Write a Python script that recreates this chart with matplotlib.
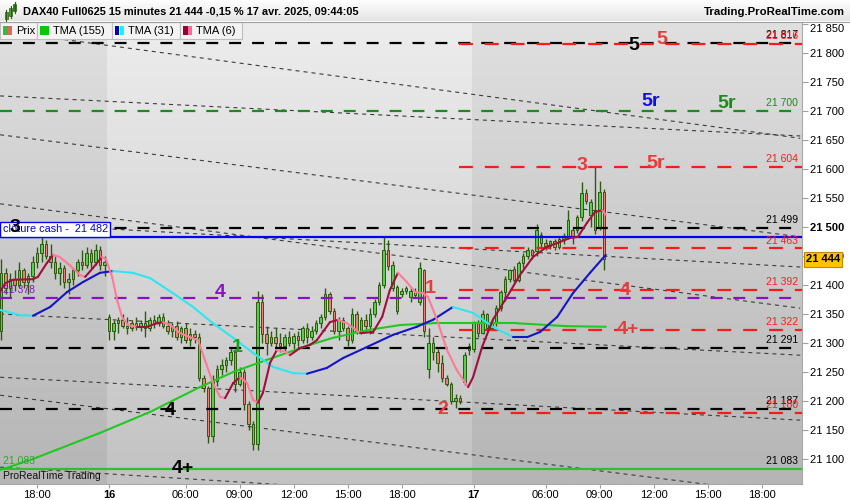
import numpy as np
import matplotlib.pyplot as plt
from matplotlib.collections import LineCollection
from matplotlib.patches import Rectangle
from matplotlib.colors import LinearSegmentedColormap

plt.rcParams['font.family'] = ['Liberation Sans', 'DejaVu Sans']
plt.rcParams['lines.scale_dashes'] = False

W, H = 850, 500

# 15 min bars, index 0 = 15 avr 16:00 ; day 16 starts at 24, day 17 at 105
opens = [21320, 21420, 21395, 21410, 21400, 21425, 21405, 21415, 21440, 21455, 21470, 21450,
         21440, 21420, 21430, 21405, 21410, 21425, 21440, 21435, 21455, 21440, 21460, 21435,
         21345, 21320, 21335, 21340, 21330, 21325, 21335, 21328, 21335, 21325, 21340, 21335,
         21345, 21330, 21320, 21330, 21310, 21325, 21305, 21315, 21310, 21240, 21222, 21140,
         21235, 21255, 21262, 21270, 21285, 21230, 21250, 21195, 21160, 21125, 21370, 21315,
         21300, 21310, 21300, 21295, 21310, 21300, 21312, 21305, 21325, 21310, 21320, 21335,
         21345, 21385, 21355, 21320, 21340, 21325, 21305, 21350, 21320, 21340, 21330, 21350,
         21370, 21400, 21460, 21395, 21397, 21385, 21390, 21380, 21390, 21370, 21425, 21255,
         21300, 21285, 21265, 21240, 21230, 21200, 21205, 21232, 21288,
         21290, 21335, 21318, 21350, 21325, 21335, 21360, 21388, 21410, 21428, 21408, 21438,
         21450, 21460, 21458, 21486, 21472, 21468, 21475, 21465, 21480, 21483, 21495, 21495,
         21517, 21559, 21521, 21495, 21500, 21560]
highs = [21445, 21430, 21420, 21425, 21440, 21430, 21420, 21450, 21465, 21482, 21478, 21470,
         21450, 21440, 21435, 21420, 21430, 21445, 21460, 21465, 21462, 21470, 21468, 21450,
         21350, 21340, 21345, 21350, 21345, 21340, 21345, 21340, 21355, 21345, 21348, 21350,
         21352, 21340, 21335, 21338, 21330, 21335, 21325, 21322, 21318, 21245, 21225, 21245,
         21262, 21272, 21275, 21292, 21290, 21258, 21255, 21200, 21165, 21390, 21385, 21330,
         21320, 21325, 21318, 21315, 21320, 21318, 21320, 21330, 21335, 21330, 21340, 21350,
         21395, 21388, 21360, 21345, 21345, 21330, 21360, 21355, 21345, 21350, 21360, 21375,
         21405, 21483, 21478, 21442, 21400, 21395, 21398, 21395, 21395, 21440, 21428, 21325,
         21310, 21290, 21280, 21245, 21232, 21212, 21210, 21285, 21300,
         21338, 21340, 21357, 21352, 21340, 21365, 21392, 21415, 21428, 21432, 21442, 21455,
         21465, 21462, 21505, 21492, 21480, 21478, 21480, 21485, 21490, 21530, 21498, 21520,
         21578, 21565, 21548, 21604, 21580, 21565]
lows = [21305, 21385, 21380, 21390, 21395, 21395, 21385, 21405, 21430, 21440, 21445, 21430,
        21410, 21400, 21395, 21385, 21400, 21415, 21425, 21430, 21430, 21435, 21425, 21415,
        21305, 21305, 21318, 21325, 21315, 21320, 21322, 21320, 21310, 21320, 21325, 21330,
        21325, 21315, 21310, 21305, 21300, 21300, 21295, 21300, 21235, 21215, 21128, 21130,
        21225, 21245, 21250, 21262, 21215, 21225, 21185, 21150, 21115, 21115, 21300, 21280,
        21295, 21290, 21285, 21285, 21295, 21290, 21295, 21300, 21300, 21305, 21315, 21325,
        21340, 21350, 21315, 21305, 21320, 21295, 21300, 21315, 21315, 21320, 21315, 21345,
        21365, 21395, 21425, 21390, 21350, 21380, 21385, 21370, 21380, 21365, 21310, 21240,
        21270, 21250, 21232, 21225, 21195, 21188, 21195, 21228, 21280,
        21285, 21310, 21315, 21320, 21322, 21330, 21355, 21372, 21405, 21405, 21405, 21430,
        21445, 21445, 21450, 21465, 21460, 21462, 21460, 21462, 21470, 21480, 21470, 21490,
        21510, 21540, 21500, 21488, 21495, 21426]
closes = [21420, 21395, 21410, 21400, 21425, 21405, 21415, 21440, 21455, 21470, 21450, 21440,
          21420, 21430, 21405, 21410, 21425, 21440, 21435, 21455, 21440, 21460, 21435, 21440,
          21320, 21335, 21340, 21330, 21325, 21335, 21328, 21335, 21325, 21340, 21335, 21345,
          21330, 21320, 21330, 21310, 21325, 21305, 21315, 21310, 21240, 21222, 21140, 21235,
          21255, 21262, 21270, 21285, 21230, 21250, 21195, 21160, 21125, 21370, 21315, 21300,
          21310, 21300, 21295, 21310, 21300, 21312, 21305, 21325, 21310, 21320, 21335, 21345,
          21385, 21355, 21320, 21340, 21325, 21305, 21350, 21320, 21340, 21330, 21350, 21370,
          21400, 21460, 21432, 21435, 21355, 21390, 21395, 21390, 21383, 21430, 21320, 21300,
          21285, 21265, 21240, 21230, 21200, 21205, 21200, 21280, 21295,
          21335, 21318, 21350, 21325, 21335, 21360, 21388, 21410, 21425, 21408, 21438, 21450,
          21460, 21452, 21495, 21472, 21468, 21475, 21465, 21480, 21485, 21512, 21482, 21517,
          21559, 21545, 21543, 21530, 21560, 21444]

# moving averages (bar index, price)
tma6_x = [-0.2, 0.9, 2.7, 7.1, 8.2, 10.2, 11.6, 13.1, 15.3, 17.6, 18.7, 20.4, 22.4, 23.3, 24.7,
          25.8, 26.9, 28.2, 30.2, 32.4, 34.7, 36.0, 37.6, 39.8, 42.0, 43.8, 45.3, 47.1, 48.7,
          49.8, 51.6, 53.1, 54.7, 56.0, 57.1, 58.2, 59.8, 61.3, 63.1, 64.2, 66.4, 68.7, 70.2,
          73.1, 74.9, 76.9, 79.8, 82.7, 84.7, 86.4, 88.2, 90.2, 92.0, 93.8, 94.9, 96.9, 99.1,
          101.3, 103.8, 104.9, 106.9, 109.3, 112.4, 115.3, 118.2, 121.3, 124.2, 126.4, 128.2,
          130.2, 132.0, 133.6, 134.4]
tma6_y = [21388, 21403, 21409, 21410, 21414, 21438, 21452, 21448, 21434, 21417, 21414, 21429,
          21448, 21445, 21414, 21374, 21345, 21331, 21328, 21328, 21334, 21336, 21331, 21317,
          21310, 21305, 21271, 21231, 21207, 21205, 21231, 21241, 21231, 21202, 21197, 21214,
          21266, 21288, 21285, 21279, 21291, 21297, 21305, 21336, 21340, 21334, 21317, 21319,
          21345, 21391, 21421, 21405, 21388, 21386, 21379, 21340, 21288, 21253, 21224, 21241,
          21293, 21340, 21379, 21417, 21448, 21466, 21474, 21481, 21483, 21507, 21526, 21529,
          21521]
tma31_x = [-0.2, 4.2, 7.1, 10.9, 14.7, 18.2, 22.0, 24.9, 29.3, 33.1, 38.2, 42.7, 47.1, 51.6,
           56.0, 60.4, 64.9, 68.0, 72.4, 76.0, 81.3, 87.1, 92.4, 96.0, 100.4, 104.9, 109.3,
           113.8, 116.9, 119.8, 123.6, 127.1, 130.9, 134.4]
tma31_y = [21357, 21348, 21347, 21362, 21388, 21405, 21421, 21424, 21421, 21412, 21386, 21362,
           21334, 21309, 21283, 21259, 21248, 21247, 21257, 21274, 21293, 21314, 21328, 21340,
           21362, 21352, 21328, 21310, 21310, 21319, 21345, 21386, 21421, 21452]
tma155_x = [-0.2, 7.1, 12.4, 22.0, 33.1, 44.2, 51.6, 59.1, 68.7, 73.8, 81.3, 88.7, 96.0,
            103.6, 114.7, 125.8, 134.4]
tma155_y = [21081, 21100, 21116, 21145, 21181, 21224, 21250, 21271, 21297, 21309, 21322, 21331,
            21334, 21334, 21334, 21329, 21328]

black_levels = [21817, 21499, 21291, 21187]
red_levels = [21816, 21604, 21463, 21392, 21322, 21180]
green_level = 21700
purple_level = 21378
cash_close = 21482
support_level = 21083
last_price = 21444

# thin dashed trend lines: (i0, p0, i1, p1)
trend_lines = [(-0.2, 21726, 177.6, 21657), (-0.2, 21838, 177.6, 21653),
               (-0.2, 21659, 177.6, 21483), (-0.2, 21507, 177.6, 21431),
               (-0.2, 21540, 177.6, 21360), (-0.2, 21350, 177.6, 21279),
               (-0.2, 21241, 177.6, 21167), (-0.2, 21210, 177.6, 21036),
               (-0.2, 21086, 177.6, 21000)]

tick_pos = [8, 24, 41, 53, 65, 77, 89, 105, 121, 133, 145, 157, 169]
tick_lab = ['18:00', '16', '06:00', '09:00', '12:00', '15:00', '18:00',
            '17', '06:00', '09:00', '12:00', '15:00', '18:00']
price_ticks = list(range(21100, 21851, 50))


def X(px):
    return (px - 1) / 4.5


def P(py):
    return 21800 - (py - 53) / 0.58


def ftext(x, y, s, **kw):
    fig.text(x / W, 1 - y / H, s, **kw)


def frect(x, y, w, h, **kw):
    fig.add_artist(Rectangle((x / W, 1 - (y + h) / H), w / W, h / H,
                             transform=fig.transFigure, **kw))


fig = plt.figure(figsize=(W / 100, H / 100), dpi=100)
fig.patch.set_facecolor('white')
ax = fig.add_axes([0, 16 / H, 802 / W, 462 / H])
x0, x1 = X(0), X(802)
y0, y1 = P(484), P(22)
ax.set_xlim(x0, x1)
ax.set_ylim(y0, y1)

# background shading per session
grad = np.linspace(0, 1, 256).reshape(-1, 1)
dark = LinearSegmentedColormap.from_list('d', ['#e0e0e0', '#b5b5b5'])
light = LinearSegmentedColormap.from_list('l', ['#ededed', '#c2c2c2'])
for a, b, cm in [(x0, 23.6, dark), (23.6, 104.6, light), (104.6, x1, dark)]:
    ax.imshow(grad, extent=[a, b, y0, y1], aspect='auto', cmap=cm, origin='upper', zorder=0)

for a, pa, b, pb in trend_lines:
    ax.plot([a, b], [pa, pb], color='#3c3c3c', lw=0.8, dashes=(2.9, 2.9), zorder=2)

dash = (8.6, 7.9)
for lv in black_levels:
    ax.axhline(lv, color='black', lw=1.6, dashes=dash, zorder=4)
ax.axhline(green_level, color='#1e8a1e', lw=1.6, dashes=dash, zorder=4)
ax.axhline(purple_level, color='#8a10c8', lw=1.6, dashes=dash, zorder=4)
ax.axhline(cash_close, color='#0000ff', lw=1.6, zorder=4)
ax.axhline(support_level, color='#2ec02e', lw=1.6, zorder=4)
ax.hlines(red_levels, X(459), x1, color='#ff1a1a', lw=1.6, linestyles=[(0, (10, 8.6))], zorder=4)

# candles
idx = np.arange(len(closes))
o = np.array(opens)
c = np.array(closes)
wick = '#2c5a10'
ax.vlines(idx, lows, highs, color=wick, lw=1.0, zorder=3)
ax.bar(idx, np.maximum(np.abs(c - o), 2), bottom=np.minimum(o, c), width=0.64,
       color=np.where(c >= o, '#56d04a', '#ea8270'), edgecolor=wick, linewidth=0.7, zorder=3.5)


def seg_line(xs, ys, up, down, lw):
    pts = np.column_stack([xs, ys])
    segs = np.stack([pts[:-1], pts[1:]], axis=1)
    cols = [up if b >= a else down for a, b in zip(ys[:-1], ys[1:])]
    ax.add_collection(LineCollection(segs, colors=cols, linewidths=lw, zorder=6,
                                     capstyle='round', joinstyle='round'))


seg_line(tma155_x, tma155_y, '#22c822', '#22c822', 1.5)
seg_line(tma31_x, tma31_y, '#1414c8', '#2ee6f2', 1.5)
seg_line(tma6_x, tma6_y, '#a0103c', '#ff7a98', 1.5)

# wave labels
big = dict(fontsize=14, fontweight='bold', ha='center', va='center', zorder=8)
red = '#e83c3c'
for s, col, px, py in [('5', 'black', 634, 45), ('5', red, 662, 40), ('5r', '#1010e0', 651, 102),
                       ('5r', '#1e8a1e', 727, 104), ('5r', red, 656, 164), ('3', red, 582, 166),
                       ('4', '#8a10c8', 220, 293), ('1', red, 430, 289), ('4', red, 625, 291),
                       ('4+', red, 628, 329), ('1', '#1e9a1e', 237, 348), ('4', 'black', 170, 411),
                       ('2', red, 443, 410), ('4+', 'black', 183, 469)]:
    ax.text(X(px), P(py), s, color=col, **big)

# cash close box
ax.add_patch(Rectangle((X(0), P(237)), X(110) - X(0), P(222) - P(237), facecolor='white',
                       edgecolor='#0000ff', lw=1, zorder=7))
ax.text(X(3), P(229.5), 'clôture cash -  21 482', color='#0000e0', fontsize=7.8,
        va='center', ha='left', zorder=7.5)
ax.text(X(15), P(228), '3', color='black', **big)

# level values at the right edge
small = dict(fontsize=7.5, ha='right', va='bottom', zorder=8)
for lv, col in [(21817, 'black'), (21816, '#ff1a1a'), (21700, '#1e8a1e'), (21604, '#ff1a1a'),
                (21499, 'black'), (21463, '#ff1a1a'), (21392, '#ff1a1a'), (21322, '#ff1a1a'),
                (21291, 'black'), (21187, 'black'), (21180, '#ff1a1a'), (21083, 'black')]:
    ax.text(X(798), lv + 5, f'{lv // 1000} {lv % 1000:03d}', color=col, **small)
ax.text(X(3), purple_level + 5, '21 378', color='#8a10c8', fontsize=7.5, ha='left', va='bottom', zorder=8)
ax.text(X(3), support_level + 5, '21 083', color='#2ea82e', fontsize=7.5, ha='left', va='bottom', zorder=8)
ax.text(X(3), P(476), 'ProRealTime Trading', color='#111111', fontsize=7.5, ha='left',
        va='center', zorder=8)

# axes
for sp in ['top', 'left']:
    ax.spines[sp].set_visible(False)
for sp in ['right', 'bottom']:
    ax.spines[sp].set_color('#a8a8a8')
ax.yaxis.tick_right()
ax.set_yticks(price_ticks, [f'{v // 1000} {v % 1000:03d}' for v in price_ticks])
ax.tick_params(axis='y', length=4, color='#a0a0a0', labelsize=8, pad=2)
for v, lab in zip(price_ticks, ax.get_yticklabels()):
    if v == 21500:
        lab.set_fontweight('bold')
    if v == 21850:
        lab.set_va('top')
ax.set_xticks(tick_pos, tick_lab)
ax.tick_params(axis='x', length=3, color='#a0a0a0', labelsize=8, pad=1)
for lab in ax.get_xticklabels():
    if lab.get_text() in ('16', '17'):
        lab.set_fontweight('bold')

# last price tag
ax.text(X(806), last_price, '21 444', fontsize=8, fontweight='bold', ha='left', va='center',
        zorder=9, clip_on=False,
        bbox=dict(boxstyle='square,pad=0.2', fc='#ffc400', ec='#c08a00', lw=0.8))

# header
hax = fig.add_axes([0, 1 - 21 / H, 1, 21 / H])
hax.imshow(grad, extent=[0, 1, 0, 1], aspect='auto', origin='upper',
           cmap=LinearSegmentedColormap.from_list('h', ['#ffffff', '#e4e4e4']))
hax.axis('off')
fig.add_artist(plt.Line2D([0, 1], [1 - 21.5 / H] * 2, color='#a0a0a0', lw=0.8,
                          transform=fig.transFigure))
for cx, cy, ch, col in [(6, 12, 7, '#4aa83a'), (10.5, 8, 8, '#4aa83a'), (15, 4, 7, '#2c7a20')]:
    fig.add_artist(plt.Line2D([cx / W] * 2, [1 - (cy - 2) / H, 1 - (cy + ch + 2) / H],
                              color='#2c5a10', lw=0.8, transform=fig.transFigure))
    frect(cx - 1.5, cy, 3, ch, facecolor=col, edgecolor='#2c5a10', lw=0.5)
ftext(23, 12, 'DAX40 Full0625 15 minutes 21 444 -0,15 % 17 avr. 2025, 09:44:05',
      fontsize=7.9, fontweight='bold', va='center', ha='left')
ftext(845, 12, 'Trading.ProRealTime.com', fontsize=8.2, fontweight='bold', va='center', ha='right')

# legend row
for bx, bw, label, sw in [(0, 37, 'Prix', ['#3cb83c', '#e06666']),
                          (37, 75, 'TMA (155)', ['#00cc00', '#00cc00']),
                          (112, 68, 'TMA (31)', ['#0000cc', '#00ffff']),
                          (180, 62, 'TMA (6)', ['#990033', '#ff6699'])]:
    frect(bx, 22, bw, 17, facecolor='#f3f3f3', edgecolor='#bdbdbd', lw=0.8)
    frect(bx + 3, 26, 4.5, 9, facecolor=sw[0], edgecolor='none')
    frect(bx + 7.5, 26, 4.5, 9, facecolor=sw[1], edgecolor='none')
    ftext(bx + 16, 30.5, label, fontsize=8, va='center', ha='left', zorder=5)

fig.savefig('out.png', dpi=100)
